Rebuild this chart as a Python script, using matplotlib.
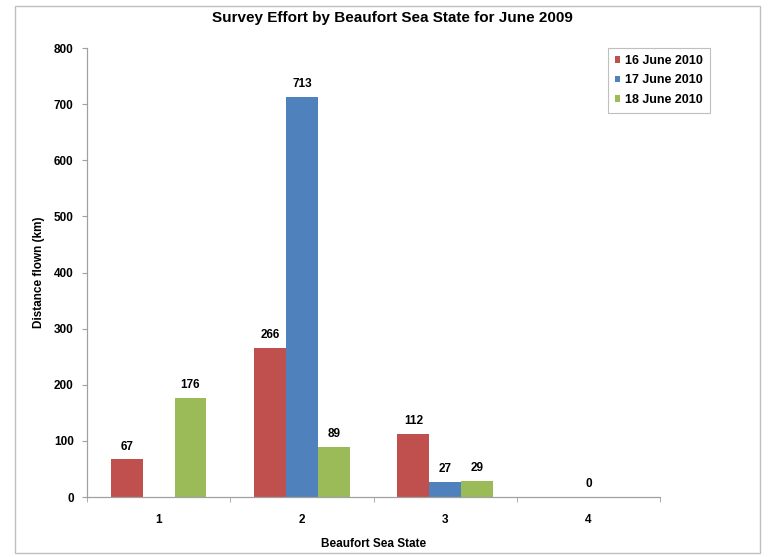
import numpy as np
import matplotlib
matplotlib.use("Agg")
import matplotlib.pyplot as plt
from matplotlib.patches import Rectangle

plt.rcParams['font.family'] = ['Liberation Sans', 'DejaVu Sans']

# 数据
categories = ["1", "2", "3", "4"]
series_names = ["16 June 2010", "17 June 2010", "18 June 2010"]
june16 = [67, 266, 112, np.nan]
june17 = [np.nan, 713, 27, 0]
june18 = [176, 89, 29, np.nan]
colors = ["#C0504D", "#4F81BD", "#9BBB59"]

fig = plt.figure(figsize=(7.72, 5.57), dpi=100)
ax = fig.add_axes([0.1127, 0.1077, 0.855 - 0.1127, 0.9138 - 0.1077])

# 外框
fig.patches.append(Rectangle((15 / 772, 0.008), 745 / 772, 1 - 0.008 - 6 / 557,
                             transform=fig.transFigure, fill=False,
                             edgecolor="#BFBFBF", linewidth=1.0))

x = np.arange(len(categories)) + 1
w = 0.222
for i, (vals, name, c) in enumerate(zip([june16, june17, june18], series_names, colors)):
    pos = x + (i - 1) * w
    ax.bar(pos, vals, width=w, color=c, label=name)
    for p, v in zip(pos, vals):
        if not np.isnan(v):
            ax.text(p, v + 12, f"{int(v)}", ha="center", va="bottom",
                    fontsize=8.5, fontweight="bold")

ax.set_xlim(0.5, 4.5)
ax.set_ylim(0, 800)
ax.set_yticks(range(0, 801, 100))
ax.set_xticks(x)
ax.set_xticklabels(categories)
ax.set_xticks(np.arange(0.5, 4.6, 1), minor=True)
ax.tick_params(axis="x", which="major", length=0, pad=12, labelsize=8.5)
ax.tick_params(axis="x", which="minor", length=3.6, color="#A0A0A0", direction="out")
ax.tick_params(axis="y", length=3.6, color="#A0A0A0", direction="out", labelsize=8.5, pad=6)
for lab in ax.get_xticklabels() + ax.get_yticklabels():
    lab.set_fontweight("bold")

for s in ["top", "right"]:
    ax.spines[s].set_visible(False)
for s in ["left", "bottom"]:
    ax.spines[s].set_color("#A0A0A0")
    ax.spines[s].set_linewidth(0.9)

ax.set_xlabel("Beaufort Sea State", fontsize=8.5, fontweight="bold", labelpad=9)
ax.set_ylabel("Distance flown (km)", fontsize=8.5, fontweight="bold")
ax.yaxis.set_label_coords(-0.074, 0.5)
fig.text(392 / 772, 1 - 18 / 557, "Survey Effort by Beaufort Sea State for June 2009",
         ha="center", va="center", fontsize=11, fontweight="bold")

leg = ax.legend(loc="upper left", bbox_to_anchor=(0.909, 1.0), fontsize=9,
                prop={"weight": "bold", "size": 9}, handlelength=0.45, handleheight=0.45,
                handletextpad=0.35, labelspacing=0.6, borderpad=0.55, fancybox=False,
                framealpha=1, edgecolor="#BFBFBF", borderaxespad=0)
leg.get_frame().set_linewidth(0.8)

plt.savefig("out.png", dpi=100)
